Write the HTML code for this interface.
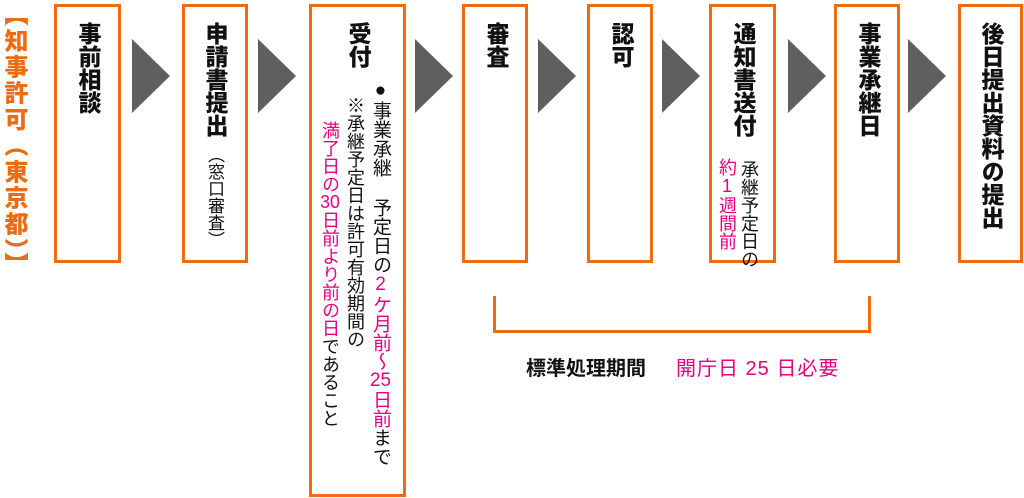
<!DOCTYPE html>
<html><head><meta charset="utf-8"><style>
body{margin:0;width:1024px;height:498px;background:#fff;position:relative;overflow:hidden;font-family:"Liberation Sans","Noto Sans CJK JP",sans-serif;}
.b{position:absolute;border:3px solid #ec6c13;box-sizing:border-box;background:#fff;}
.v{position:absolute;writing-mode:vertical-rl;text-orientation:upright;white-space:nowrap;line-height:1;}
.t{font-weight:900;font-size:23px;color:#111;}
.s{font-size:18px;color:#111;}
.p{color:#e4007f;}
.c{text-combine-upright:all;}
.a{position:absolute;width:0;height:0;border-top:37px solid transparent;border-bottom:37px solid transparent;border-left:38px solid #5f5f5f;top:39px;}
</style></head><body>
<div class="v" style="left:1px;top:2px;font-size:24px;font-weight:900;color:#ec6c13;letter-spacing:2.2px">【知事許可（東京都）】</div>

<div class="b" style="left:54px;top:4px;width:67px;height:259px"></div>
<div class="v t" style="left:76px;top:22px">事前相談</div>

<div class="b" style="left:182px;top:4px;width:66px;height:259px"></div>
<div class="v t" style="left:203px;top:22px">申請書提出</div>
<div class="v s" style="left:206px;top:146px;font-size:17px">（窓口審査）</div>

<div class="b" style="left:309px;top:4px;width:97px;height:493px"></div>
<div class="v t" style="left:346px;top:22px">受付</div>
<div class="v s" style="left:371px;top:80px;font-size:19px">●事業承継 予定日の<span class="p">2ケ月前～<span class="c">25</span>日前</span>まで</div>
<div class="v s" style="left:346px;top:96px">※承継予定日は許可有効期間の</div>
<div class="v s" style="left:321px;top:121px"><span class="p">満了日の<span class="c">30</span>日前より前の日</span>であること</div>

<div class="b" style="left:462px;top:4px;width:66px;height:259px"></div>
<div class="v t" style="left:484px;top:22px">審査</div>

<div class="b" style="left:587px;top:4px;width:66px;height:259px"></div>
<div class="v t" style="left:609px;top:22px">認可</div>

<div class="b" style="left:709px;top:4px;width:67px;height:259px"></div>
<div class="v t" style="left:731px;top:22px">通知書送付</div>
<div class="v s" style="left:740px;top:160px">承継予定日の</div>
<div class="v s p" style="left:718px;top:158px">約1週間前</div>

<div class="b" style="left:834px;top:4px;width:66px;height:259px"></div>
<div class="v t" style="left:856px;top:22px">事業承継日</div>

<div class="b" style="left:958px;top:4px;width:65px;height:259px"></div>
<div class="v t" style="left:979px;top:22px">後日提出資料の提出</div>

<div class="a" style="left:132px"></div>
<div class="a" style="left:258px"></div>
<div class="a" style="left:415px"></div>
<div class="a" style="left:538px"></div>
<div class="a" style="left:662px"></div>
<div class="a" style="left:788px"></div>
<div class="a" style="left:908px"></div>

<div style="position:absolute;left:493px;top:296px;width:372px;height:34px;border:3px solid #ec6c13;border-top:none;box-sizing:content-box"></div>
<div style="position:absolute;left:526px;top:352px;font-size:20px;font-weight:bold;color:#111;white-space:nowrap">標準処理期間<span style="display:inline-block;width:30px"></span><span class="p" style="font-weight:normal;letter-spacing:1px">開庁日 25 日必要</span></div>
</body></html>
